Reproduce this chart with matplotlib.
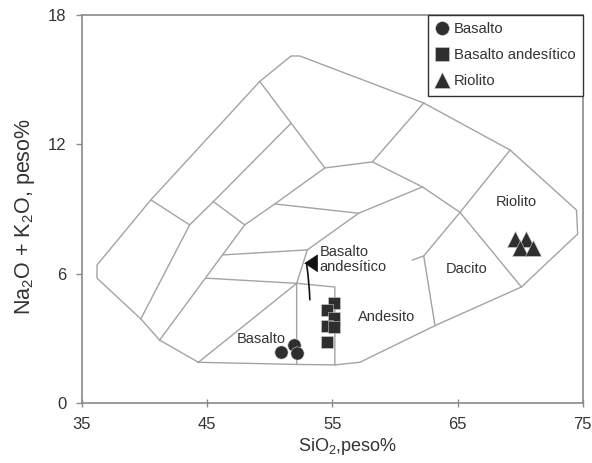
import matplotlib
matplotlib.use("Agg")
import matplotlib.pyplot as plt

plt.rcParams['font.family'] = ['Liberation Sans', 'DejaVu Sans']
plt.rcParams['mathtext.default'] = 'regular'

# diagrama TAS: contorno exterior y limites de campos (SiO2, Na2O+K2O)
contorno = [(44.3, 1.90), (41.2, 2.93), (39.7, 3.91), (36.2, 5.80), (36.2, 6.41),
            (40.5, 9.43), (49.2, 14.92), (51.7, 16.10), (52.4, 16.10), (62.3, 13.92),
            (69.2, 11.74), (74.5, 8.96), (74.6, 7.85), (70.1, 5.39), (63.2, 3.60),
            (57.2, 1.90), (55.2, 1.78), (52.15, 1.80), (44.3, 1.90)]
limites = [
    [(40.5, 9.43), (43.6, 8.27), (39.7, 3.91)],
    [(43.6, 8.27), (45.5, 9.35), (51.7, 12.98)],
    [(45.5, 9.35), (48.0, 8.27), (41.2, 2.93)],
    [(48.0, 8.27), (50.4, 9.24), (54.4, 10.91)],
    [(49.2, 14.92), (54.4, 10.91), (58.2, 11.19), (62.3, 13.92)],
    [(58.2, 11.19), (62.2, 10.03), (65.2, 8.85), (70.1, 5.39)],
    [(65.2, 8.85), (69.2, 11.74)],
    [(50.4, 9.24), (57.1, 8.81), (62.2, 10.03)],
    [(46.3, 6.88), (53.0, 7.11), (57.1, 8.81)],
    [(53.0, 7.11), (52.15, 5.56), (52.15, 1.80)],
    [(44.9, 5.80), (52.15, 5.56), (55.2, 5.39), (55.2, 1.78)],
    [(44.3, 1.90), (52.15, 5.56)],
    [(61.4, 6.64), (62.3, 6.83), (63.2, 3.60)],
    [(62.3, 6.83), (65.2, 8.85)],
]

# muestras
basalto_x = [50.9, 51.9, 52.2]
basalto_y = [2.36, 2.68, 2.33]
bas_and_x = [55.17, 54.61, 55.17, 54.61, 55.16, 54.59]
bas_and_y = [4.67, 4.33, 3.95, 3.58, 3.54, 2.86]
riolito_x = [69.58, 70.46, 69.98, 71.02]
riolito_y = [7.62, 7.62, 7.18, 7.18]

# nombres de campos
campos = ['Basalto', 'Andesito', 'Dacito', 'Riolito']
campos_x = [49.35, 59.3, 65.7, 69.7]
campos_y = [2.98, 4.01, 6.23, 9.31]

# flecha hacia el campo del basalto andesitico
flecha_punta = (52.76, 6.49)
flecha_base = (53.8, 6.49)
flecha_cola = (53.2, 4.8)
flecha_codo = (52.95, 6.42)

fig = plt.figure(figsize=(5.92, 4.63), dpi=100)
ax = fig.add_axes([0.1385, 0.129, 0.8458, 0.8386])

gris = '#a3a3a3'
ax.plot([p[0] for p in contorno], [p[1] for p in contorno], color=gris, lw=1.0, zorder=1)
for lin in limites:
    ax.plot([p[0] for p in lin], [p[1] for p in lin], color=gris, lw=1.0, zorder=1)

mk = dict(color='#2e2e2e', markeredgecolor='#d0d0d0', markeredgewidth=0.4, ls='none', zorder=3)
ax.plot(basalto_x, basalto_y, marker='o', ms=9.5, label='Basalto', **mk)
ax.plot(bas_and_x, bas_and_y, marker='s', ms=9, label='Basalto andesítico', **mk)
ax.plot(riolito_x, riolito_y, marker='^', ms=11, label='Riolito', **mk)

for t, x, y in zip(campos, campos_x, campos_y):
    ax.text(x, y, t, fontsize=10.5, color='#333333', ha='center', va='center')
ax.text(54.0, 6.66, 'Basalto\nandesítico', fontsize=10.5, color='#333333',
        ha='left', va='center', linespacing=1.05)
ax.annotate('', xy=flecha_codo, xytext=flecha_cola,
            arrowprops=dict(arrowstyle='-', color='#111111', lw=1.2,
                            connectionstyle='arc3,rad=0.03', shrinkA=0, shrinkB=0))
ax.annotate('', xy=flecha_punta, xytext=flecha_base,
            arrowprops=dict(arrowstyle='-|>,head_length=0.9,head_width=0.6',
                            color='#111111', lw=0.5, mutation_scale=10,
                            shrinkA=0, shrinkB=0))

ax.set_xlim(35, 75)
ax.set_ylim(0, 18)
ax.set_xticks([35, 45, 55, 65, 75])
ax.set_yticks([0, 6, 12, 18])
for s in ax.spines.values():
    s.set_color('#8a8a8a')
    s.set_linewidth(1.2)
ax.tick_params(axis='x', direction='inout', length=6, width=1, color='#8a8a8a',
               pad=7, labelsize=12, labelcolor='#333333')
ax.tick_params(axis='y', direction='out', length=4, width=1, color='#8a8a8a',
               pad=7, labelsize=12, labelcolor='#333333')

ax.set_xlabel('SiO$_2$,peso%', fontsize=13, color='#333333')
ax.xaxis.set_label_coords(0.531, -0.085)
ax.set_ylabel('Na$_2$O + K$_2$O, peso%', fontsize=15.5, color='#333333')
ax.yaxis.set_label_coords(-0.09, 0.48)

leg = ax.legend(loc='upper right', borderaxespad=0, fancybox=False, framealpha=1,
                edgecolor='#333333', fontsize=10.7, handlelength=0.9, handletextpad=0.35,
                labelspacing=0.8, borderpad=0.5, markerscale=1.05)
leg.get_frame().set_linewidth(1.0)
for t in leg.get_texts():
    t.set_color('#333333')

fig.savefig('out.png', dpi=100)
